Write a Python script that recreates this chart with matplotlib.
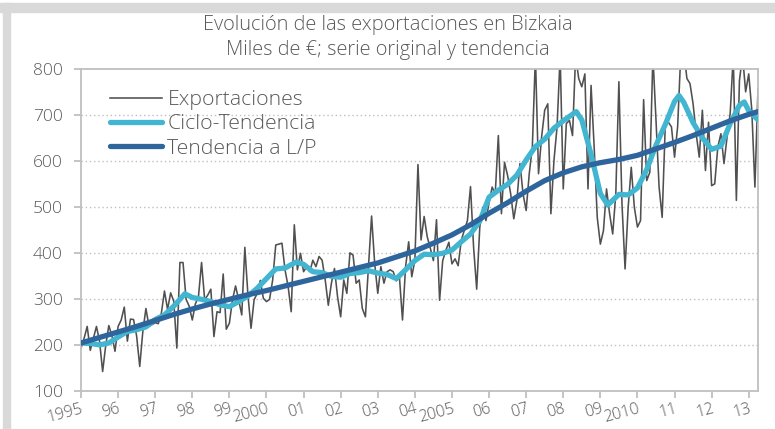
import matplotlib.pyplot as plt
import matplotlib.patches as mpatches
import numpy as np

# exportaciones mensuales (miles de euros), ene 1995 - abr 2013
exportaciones = [
    194, 215, 241, 189, 215, 241, 209, 143, 200, 243, 221, 187,
    241, 255, 283, 209, 257, 256, 220, 154, 230, 280, 241, 245,
    249, 247, 270, 318, 278, 314, 296, 194, 380, 380, 300, 285,
    255, 290, 306, 380, 299, 309, 322, 219, 273, 271, 355, 235,
    248, 299, 329, 299, 266, 413, 309, 237, 299, 313, 341, 302,
    295, 300, 342, 418, 420, 422, 364, 328, 273, 462, 364, 400, 360,
    371, 360, 385, 371, 393, 385, 342, 287, 335, 367, 305, 262,
    342, 313, 401, 396, 335, 342, 280, 262, 371, 481, 378, 313,
    371, 335, 360, 364, 360, 340, 349, 255, 371, 425, 349, 385,
    593, 429, 480, 436, 411,
    384, 473, 298, 384, 406, 424, 377, 388, 373, 428, 450, 471,
    545, 413, 322, 457, 500, 471, 510, 544, 529, 656, 486, 598,
    569, 529, 475, 515, 595, 529, 493, 573, 631, 830, 573, 653,
    711, 725, 486,
    602, 675, 830, 540, 682, 689, 656, 830, 780, 762, 790, 540,
    765, 631, 478, 420, 449, 540, 486, 442, 529, 773, 507, 366,
    500, 587, 500, 457, 471, 734, 558, 576, 830, 690, 544, 478,
    678, 685, 675, 609, 675, 830, 840, 780, 769, 725, 660, 609,
    711, 580, 685, 547, 551, 631, 660, 595, 653, 704, 830, 515,
    776, 830, 751, 790, 711, 544, 758,
]

ciclo_anos = [
    1995.0, 1995.25, 1995.5, 1995.75, 1996.0, 1996.25, 1996.5, 1996.75,
    1997.0, 1997.25, 1997.5, 1997.8, 1998.0, 1998.25, 1998.5, 1998.75,
    1999.0, 1999.25, 1999.5, 1999.75, 2000.0, 2000.25, 2000.5, 2000.8,
    2001.0, 2001.25, 2001.5, 2001.75, 2002.0, 2002.25, 2002.5, 2002.75,
    2003.0, 2003.25, 2003.5, 2003.75, 2004.0, 2004.25, 2004.5, 2004.75,
    2005.0, 2005.25, 2005.5, 2005.75, 2006.0, 2006.25, 2006.5, 2006.75,
    2007.0, 2007.25, 2007.5, 2007.75, 2008.0, 2008.35, 2008.5, 2008.75,
    2009.0, 2009.2, 2009.5, 2009.75, 2010.0, 2010.25, 2010.5, 2010.75,
    2011.0, 2011.12, 2011.25, 2011.5, 2011.75, 2012.0, 2012.25, 2012.5,
    2012.75, 2012.88, 2013.0, 2013.25,
]
ciclo_vals = [
    205, 204, 201, 205, 218, 230, 234, 240,
    256, 266, 285, 312, 304, 300, 295, 288,
    284, 295, 307, 324, 345, 366, 368, 381,
    376, 360, 358, 350, 348, 356, 358, 362,
    357, 354, 345, 364, 384, 398, 397, 400,
    407, 425, 442, 470, 522, 537, 550, 570,
    603, 632, 648, 672, 688, 708, 690, 615,
    530, 505, 528, 527, 542, 582, 635, 680,
    730, 743, 728, 684, 651, 626, 633, 682,
    722, 729, 710, 690,
]

tend_anos = [
    1995.0, 1995.5, 1996.0, 1996.5, 1997.0, 1997.5, 1998.0, 1998.5,
    1999.0, 1999.5, 2000.0, 2000.5, 2001.0, 2001.5, 2002.0, 2002.5,
    2003.0, 2003.5, 2004.0, 2004.5, 2005.0, 2005.5, 2006.0, 2006.5,
    2007.0, 2007.5, 2008.0, 2008.5, 2009.0, 2009.5, 2010.0, 2010.5,
    2011.0, 2011.5, 2012.0, 2012.5, 2013.0, 2013.25,
]
tend_vals = [
    205, 217, 229, 241, 254, 267, 279, 290,
    300, 310, 319, 329, 339, 349, 359, 369,
    379, 392, 405, 422, 440, 462, 487, 510,
    535, 558, 575, 588, 597, 604, 613, 627,
    641, 656, 672, 688, 702, 708,
]

ticks_anos = list(range(1995, 2014))
ticks_etiq = ['1995', '96', '97', '98', '99', '2000', '01', '02', '03', '04',
              '2005', '06', '07', '08', '09', '2010', '11', '12', '13']

plt.rcParams['font.family'] = ['Open Sans', 'DejaVu Sans']
plt.rcParams['font.weight'] = 'light'
gris_texto = '#595959'
gris_eje = '#BFBFBF'

fig = plt.figure(figsize=(7.75, 4.29), dpi=100)
ax = fig.add_axes([81 / 775, 1 - 391.3 / 429, 677 / 775, 322 / 429])

x_exp = 1995 + np.arange(len(exportaciones)) / 12.0
ax.plot(x_exp, exportaciones, color='#505050', lw=1.15, label='Exportaciones', zorder=2)
ax.plot(ciclo_anos, ciclo_vals, color='#42B5D1', lw=3.8, label='Ciclo-Tendencia',
        solid_capstyle='round', zorder=3)
ax.plot(tend_anos, tend_vals, color='#2F659D', lw=3.8, label='Tendencia a L/P',
        solid_capstyle='round', zorder=4)

ax.set_xlim(1995, x_exp[-1])
ax.set_ylim(100, 800)
ax.set_yticks(range(100, 801, 100))
ax.set_xticks(ticks_anos)
ax.set_xticklabels(ticks_etiq, rotation=15, ha='right', va='top', rotation_mode='anchor')

for v in range(200, 800, 100):
    ax.axhline(v, color=gris_eje, lw=1.0, ls=(0, (1, 2)), zorder=1)

for s in ax.spines.values():
    s.set_color(gris_eje)
    s.set_linewidth(1.3)
ax.tick_params(axis='both', colors=gris_eje, labelcolor=gris_texto,
               length=5, width=1.3)
ax.tick_params(axis='y', pad=8, labelsize=12.5)
ax.tick_params(axis='x', pad=2, labelsize=11.5)

leg = ax.legend(loc='upper left', bbox_to_anchor=(0.043, 0.935), frameon=False,
                fontsize=15.3, handlelength=2.45, handletextpad=0.25, labelspacing=0.2,
                borderpad=0, borderaxespad=0)
for t in leg.get_texts():
    t.set_color(gris_texto)

fig.text(0.5, 1 - 15 / 429, 'Evolución de las exportaciones en Bizkaia', ha='center', va='top',
         fontsize=14.4, color=gris_texto)
fig.text(0.5, 1 - 40 / 429, 'Miles de €; serie original y tendencia', ha='center', va='top',
         fontsize=14.4, color=gris_texto)

# marco gris del documento
fig.patches.append(mpatches.Rectangle((0, 1 - 11.5 / 429), 1, 8.5 / 429, transform=fig.transFigure,
                                      color='#D9D9D9', zorder=0))
fig.patches.append(mpatches.Rectangle((3 / 775, 0), 7 / 775, 1 - 3 / 429, transform=fig.transFigure,
                                      color='#D9D9D9', zorder=0))

fig.savefig('out.png', dpi=100)
